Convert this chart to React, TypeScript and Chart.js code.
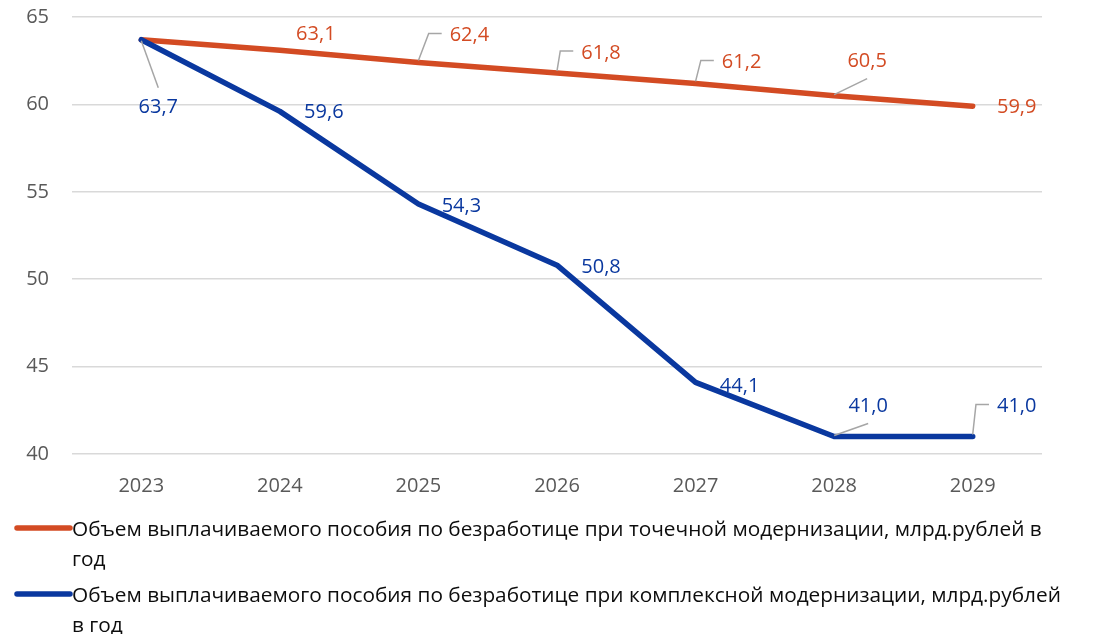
import React, { useEffect, useRef } from 'react';
import { Chart, registerables } from 'chart.js';

Chart.register(...registerables);

// ---- data ----
const years = ['2023', '2024', '2025', '2026', '2027', '2028', '2029'];
const pointModernization = [63.7, 63.1, 62.4, 61.8, 61.2, 60.5, 59.9];
const complexModernization = [63.7, 59.6, 54.3, 50.8, 44.1, 41.0, 41.0];
const yMin = 40;
const yMax = 65;
const yStep = 5;
const legendPointLines = [
  'Объем выплачиваемого пособия по безработице при точечной модернизации, млрд.рублей в',
  'год',
];
const legendComplexLines = [
  'Объем выплачиваемого пособия по безработице при комплексной модернизации, млрд.рублей',
  'в год',
];

// ---- styles ----
const ORANGE = '#D34B23';
const BLUE = '#0A389F';
const LEADER = '#A6A6A6';
const FONT = "'Open Sans', sans-serif";

type LabelPos = null | { dx: number; dy: number; leader?: 'elbow' | 'up' | 'down' };

const orangeLabelPos: LabelPos[] = [
  null,
  { dx: 36, dy: -16 },
  { dx: 51, dy: -27, leader: 'elbow' },
  { dx: 44, dy: -20, leader: 'elbow' },
  { dx: 46, dy: -21, leader: 'elbow' },
  { dx: 33, dy: -34, leader: 'down' },
  { dx: 44, dy: 1 },
];
const blueLabelPos: LabelPos[] = [
  { dx: 17, dy: 68, leader: 'up' },
  { dx: 44, dy: 1 },
  { dx: 43, dy: 2 },
  { dx: 44, dy: 2 },
  { dx: 44, dy: 4 },
  { dx: 34, dy: -30, leader: 'down' },
  { dx: 44, dy: -30, leader: 'elbow' },
];

const fmt = (v: number) => v.toFixed(1).replace('.', ',');

const dataLabelPlugin = {
  id: 'dataLabels',
  afterDatasetsDraw(chart: any) {
    const ctx = chart.ctx as CanvasRenderingContext2D;
    ctx.save();
    ctx.font = `20px ${FONT}`;
    ctx.textAlign = 'center';
    ctx.textBaseline = 'middle';
    chart.data.datasets.forEach((ds: any, di: number) => {
      const meta = chart.getDatasetMeta(di);
      const positions: LabelPos[] = ds.labelPositions;
      meta.data.forEach((el: any, i: number) => {
        const pos = positions[i];
        if (!pos) return;
        const text = fmt(ds.data[i]);
        const px = el.x;
        const py = el.y;
        const cx = px + pos.dx;
        const cy = py + pos.dy;
        const w = ctx.measureText(text).width;
        const left = cx - w / 2;
        if (pos.leader) {
          ctx.strokeStyle = LEADER;
          ctx.lineWidth = 1.5;
          ctx.beginPath();
          if (pos.leader === 'elbow') {
            ctx.moveTo(px, py - 2);
            ctx.lineTo(left - 21, cy - 2);
            ctx.lineTo(left - 8, cy - 2);
          } else if (pos.leader === 'down') {
            ctx.moveTo(px, py - 1);
            ctx.lineTo(cx, cy + 17);
          } else {
            ctx.moveTo(px, py + 1);
            ctx.lineTo(cx, cy - 20);
          }
          ctx.stroke();
        }
        ctx.fillStyle = ds.borderColor;
        ctx.fillText(text, cx, cy);
      });
    });
    ctx.restore();
  },
};

const legendPlugin = {
  id: 'customLegend',
  afterDraw(chart: any) {
    const ctx = chart.ctx as CanvasRenderingContext2D;
    const items = [
      { color: ORANGE, lines: legendPointLines },
      { color: BLUE, lines: legendComplexLines },
    ];
    const base = chart.chartArea.bottom + 75;
    ctx.save();
    ctx.font = `20.8px ${FONT}`;
    ctx.textAlign = 'left';
    ctx.textBaseline = 'middle';
    items.forEach((it, i) => {
      const y = base + i * 66;
      ctx.strokeStyle = it.color;
      ctx.lineWidth = 5.5;
      ctx.lineCap = 'round';
      ctx.beginPath();
      ctx.moveTo(17, y - 1);
      ctx.lineTo(70, y - 1);
      ctx.stroke();
      ctx.fillStyle = '#0D0D0D';
      it.lines.forEach((t, j) => ctx.fillText(t, 72, y + 1 + j * 30));
    });
    ctx.restore();
  },
};

export default function App() {
  const ref = useRef<HTMLCanvasElement>(null);
  useEffect(() => {
    document.body.style.margin = '0';
    if (!ref.current) return;
    const chart = new Chart(ref.current, {
      type: 'line',
      data: {
        labels: years,
        datasets: [
          {
            label: legendPointLines.join(' '),
            data: pointModernization,
            borderColor: ORANGE,
            backgroundColor: ORANGE,
            borderWidth: 5.5,
            borderCapStyle: 'round',
            borderJoinStyle: 'round',
            pointRadius: 0,
            tension: 0,
            order: 1,
            labelPositions: orangeLabelPos,
          } as any,
          {
            label: legendComplexLines.join(' '),
            data: complexModernization,
            borderColor: BLUE,
            backgroundColor: BLUE,
            borderWidth: 5.5,
            borderCapStyle: 'round',
            borderJoinStyle: 'round',
            pointRadius: 0,
            tension: 0,
            order: 0,
            labelPositions: blueLabelPos,
          } as any,
        ],
      },
      options: {
        animation: false,
        responsive: true,
        maintainAspectRatio: false,
        layout: { padding: { left: 0, right: 52, top: 17, bottom: 130 } },
        plugins: {
          legend: { display: false },
          tooltip: { enabled: false },
        },
        scales: {
          x: {
            offset: true,
            grid: { display: false, drawTicks: false },
            border: { display: false },
            ticks: {
              color: '#595959',
              font: { family: FONT, size: 20 },
              padding: 20,
              maxRotation: 0,
            },
            afterFit: (s: any) => {
              s.height = 50;
              s.paddingLeft = 0;
              s.paddingRight = 0;
            },
          },
          y: {
            min: yMin,
            max: yMax,
            grid: { color: '#D9D9D9', lineWidth: 1.5, drawTicks: false },
            border: { display: false },
            ticks: {
              stepSize: yStep,
              color: '#595959',
              font: { family: FONT, size: 20 },
              padding: 23,
            },
            afterFit: (s: any) => {
              s.width = 72;
              s.paddingTop = 0;
              s.paddingBottom = 0;
            },
          },
        },
      },
      plugins: [dataLabelPlugin, legendPlugin],
    });
    return () => chart.destroy();
  }, []);
  return (
    <div style={{ position: 'relative', width: 1094, height: 634 }}>
      <canvas ref={ref} />
    </div>
  );
}
